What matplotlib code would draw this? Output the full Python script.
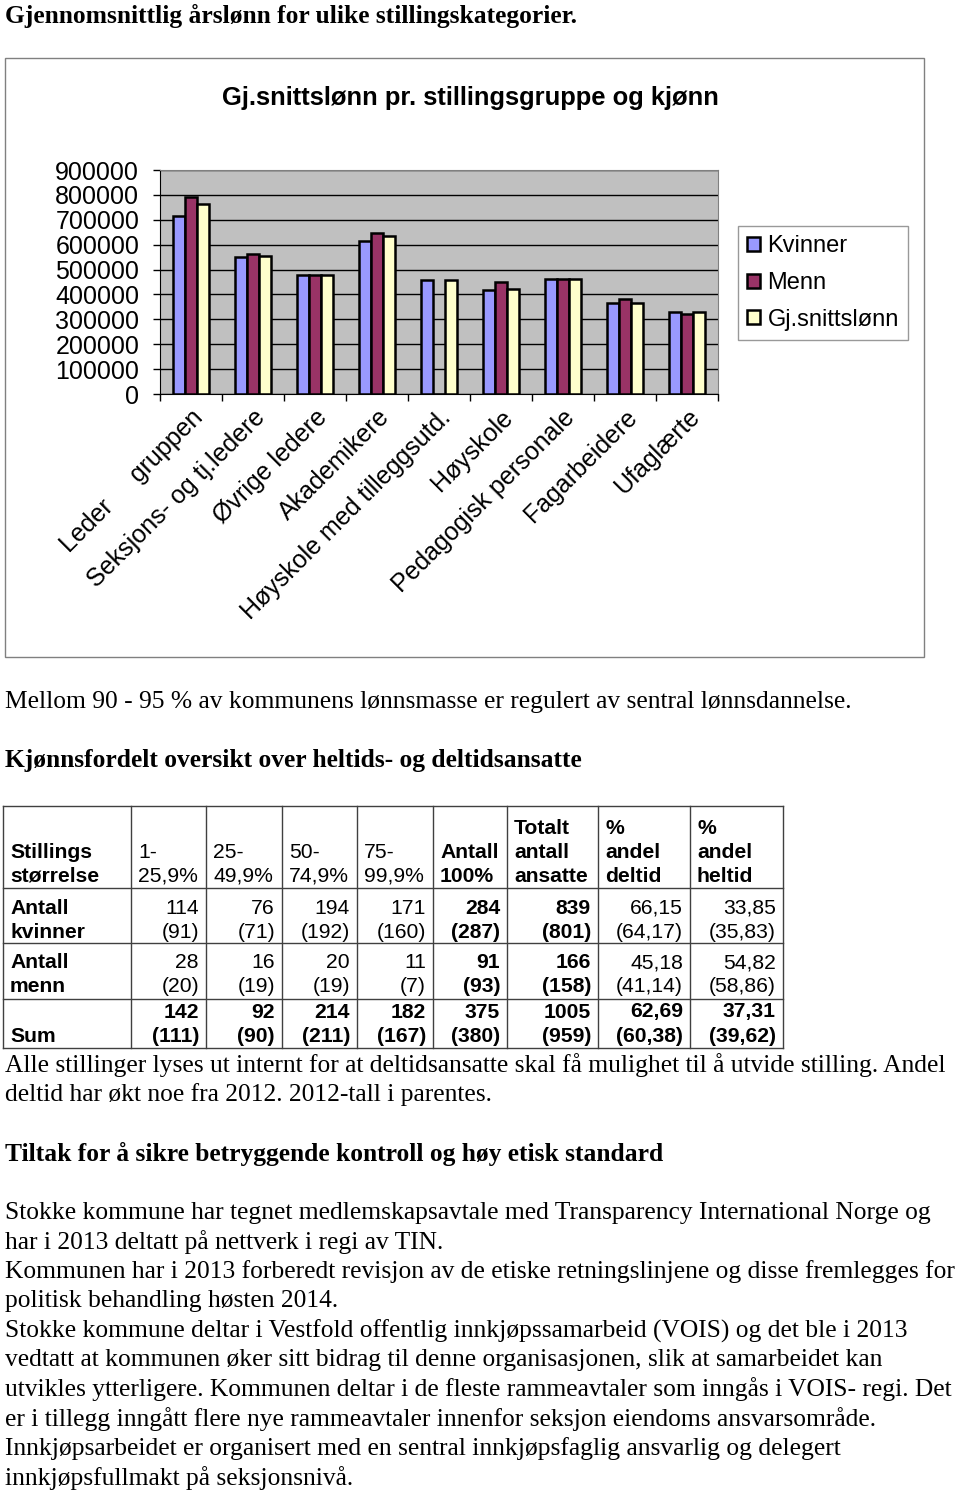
import numpy as np
import matplotlib.pyplot as plt
from matplotlib.patches import Rectangle

# chart data
categories = ["Leder     gruppen", "Seksjons- og tj.ledere", "Øvrige ledere",
              "Akademikere", "Høyskole med tilleggsutd.", "Høyskole",
              "Pedagogisk personale", "Fagarbeidere", "Ufaglærte"]
kvinner = [717000, 551000, 477000, 614000, 457000, 416000, 461000, 366000, 330000]
menn = [791000, 564000, 477000, 647000, 0, 449000, 461000, 383000, 322000]
snitt = [764000, 556000, 477000, 634000, 457000, 420000, 461000, 366000, 330000]
series_names = ["Kvinner", "Menn", "Gj.snittslønn"]
series_colors = ["#9999FF", "#993366", "#FFFFCC"]

# table data
col_heads = [["Stillings", "størrelse"], ["1-", "25,9%"], ["25-", "49,9%"],
             ["50-", "74,9%"], ["75-", "99,9%"], ["Antall", "100%"],
             ["Totalt", "antall", "ansatte"], ["%", "andel", "deltid"],
             ["%", "andel", "heltid"]]
head_bold = [True, False, False, False, False, True, True, True, True]
row_labels = [["Antall", "kvinner"], ["Antall", "menn"], ["", "Sum"]]
row_now = [["114", "76", "194", "171", "284", "839", "66,15", "33,85"],
           ["28", "16", "20", "11", "91", "166", "45,18", "54,82"],
           ["142", "92", "214", "182", "375", "1005", "62,69", "37,31"]]
row_2012 = [["(91)", "(71)", "(192)", "(160)", "(287)", "(801)", "(64,17)", "(35,83)"],
            ["(20)", "(19)", "(19)", "(7)", "(93)", "(158)", "(41,14)", "(58,86)"],
            ["(111)", "(90)", "(211)", "(167)", "(380)", "(959)", "(60,38)", "(39,62)"]]
bold_cols = [4, 5]

body_lines = [
    (702, "Mellom 90 - 95 % av kommunens lønnsmasse er regulert av sentral lønnsdannelse.", False),
    (761, "Kjønnsfordelt oversikt over heltids- og deltidsansatte", True),
    (1065, "Alle stillinger lyses ut internt for at deltidsansatte skal få mulighet til å utvide stilling. Andel", False),
    (1095, "deltid har økt noe fra 2012. 2012-tall i parentes.", False),
    (1154, "Tiltak for å sikre betryggende kontroll og høy etisk standard", True),
    (1213, "Stokke kommune har tegnet medlemskapsavtale med Transparency International Norge og", False),
    (1242, "har i 2013 deltatt på nettverk i regi av TIN.", False),
    (1272, "Kommunen har i 2013 forberedt revisjon av de etiske retningslinjene og disse fremlegges for", False),
    (1301, "politisk behandling høsten 2014.", False),
    (1331, "Stokke kommune deltar i Vestfold offentlig innkjøpssamarbeid (VOIS) og det ble i 2013", False),
    (1360, "vedtatt at kommunen øker sitt bidrag til denne organisasjonen, slik at samarbeidet kan", False),
    (1389, "utvikles ytterligere. Kommunen deltar i de fleste rammeavtaler som inngås i VOIS- regi. Det", False),
    (1419, "er i tillegg inngått flere nye rammeavtaler innenfor seksjon eiendoms ansvarsområde.", False),
    (1449, "Innkjøpsarbeidet er organisert med en sentral innkjøpsfaglig ansvarlig og delegert", False),
    (1478, "innkjøpsfullmakt på seksjonsnivå.", False),
]

W, H = 960, 1493
fig = plt.figure(figsize=(W / 100, H / 100), dpi=100)

# page layer in pixel coords
bg = fig.add_axes([0, 0, 1, 1])
bg.set_xlim(0, W)
bg.set_ylim(H, 0)
bg.axis("off")

serif = "Liberation Serif"
sans = "Liberation Sans"

bg.text(5, 16, "Gjennomsnittlig årslønn for ulike stillingskategorier.",
        family=serif, fontsize=18.4, weight="bold", va="center")
for y, s, b in body_lines:
    bg.text(5, y, s, family=serif, fontsize=18.4, va="center",
            weight="bold" if b else "normal")

# chart frame
bg.add_patch(Rectangle((5, 58), 919, 599, fill=False, ec="#808080", lw=1))
bg.text(470, 98, "Gj.snittslønn pr. stillingsgruppe og kjønn", family=sans,
        fontsize=18.4, weight="bold", ha="center", va="center")

ax = fig.add_axes([160 / W, 1 - 394 / H, 558 / W, 224 / H])
ax.set_facecolor("#C0C0C0")
x = np.arange(len(categories)) + 0.5
bw = 0.197
for k, (vals, col) in enumerate(zip([kvinner, menn, snitt], series_colors)):
    ax.bar(x + (k - 1) * bw, vals, bw, color=col, edgecolor="black",
           lw=1.8, label=series_names[k], zorder=3)
ax.set_xlim(0, len(categories))
ax.set_ylim(0, 900000)
ax.set_yticks(np.arange(0, 900001, 100000))
ax.set_yticklabels([str(v) for v in range(0, 900001, 100000)], family=sans, fontsize=18)
ax.yaxis.grid(True, color="black", lw=1)
ax.set_axisbelow(True)
ax.set_xticks(np.arange(0, len(categories) + 1))
ax.set_xticklabels([])
ax.set_xticks(x, minor=True)
ax.set_xticklabels(categories, minor=True, rotation=45, ha="right",
                   rotation_mode="anchor", family=sans, fontsize=18)
ax.tick_params(axis="x", which="minor", length=0, pad=8)
ax.tick_params(axis="both", which="major", length=5, direction="out", width=1)
ax.tick_params(axis="y", pad=10)
for s in ["top", "right"]:
    ax.spines[s].set_color("#808080")
for s in ["left", "bottom"]:
    ax.spines[s].set_color("black")

leg = fig.legend(loc="upper left", bbox_to_anchor=(738 / W, 1 - 226 / H),
                 prop={"family": sans, "size": 17}, frameon=True,
                 fancybox=False, edgecolor="#808080", handlelength=0.55,
                 handleheight=0.55, handletextpad=0.3, labelspacing=0.62,
                 borderpad=0.4, borderaxespad=0)
leg.get_frame().set_linewidth(1)

# table
xs = [3, 131, 206, 282, 357, 433, 507, 598, 690, 783]
ys = [806, 888, 943, 999, 1048]
for xv in xs:
    bg.plot([xv, xv], [ys[0], ys[-1]], color="#404040", lw=1)
for yv in ys:
    bg.plot([xs[0], xs[-1]], [yv, yv], color="#404040", lw=1)

tfs = 15.2
for c, head in enumerate(col_heads):
    for j, line in enumerate(reversed(head)):
        bg.text(xs[c] + 7, 876 - 24 * j, line, family=sans, fontsize=tfs,
                weight="bold" if head_bold[c] else "normal", va="center")

line_y = [(908, 932), (963, 987), (1012, 1037)]
for r in range(3):
    y1, y2 = line_y[r]
    for j, lab in enumerate(row_labels[r]):
        bg.text(xs[0] + 7, (y1, y2)[j], lab,
                family=sans, fontsize=tfs, weight="bold", va="center")
    for c in range(8):
        b = r == 2 or c in bold_cols
        wgt = "bold" if b else "normal"
        bg.text(xs[c + 2] - 7, y1, row_now[r][c], family=sans, fontsize=tfs,
                weight=wgt, va="center", ha="right")
        bg.text(xs[c + 2] - 7, y2, row_2012[r][c], family=sans, fontsize=tfs,
                weight=wgt, va="center", ha="right")

fig.savefig("out.png", dpi=100)
